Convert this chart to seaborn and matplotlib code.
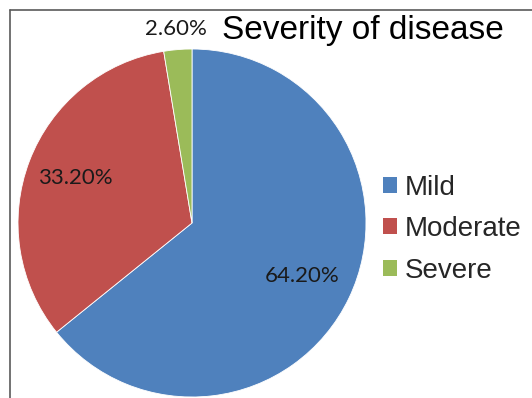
import numpy as np
import matplotlib
matplotlib.use("Agg")
import matplotlib.pyplot as plt
from matplotlib.lines import Line2D
from matplotlib.patches import Patch
import seaborn as sns

categories = ["Mild", "Moderate", "Severe"]
values = [64.2, 33.2, 2.6]
colors = ["#4F81BD", "#C0504D", "#9BBB59"]
title = "Severity of disease"

sns.set_theme(style="white")
plt.rcParams['font.family'] = ['Liberation Sans', 'DejaVu Sans']

W, H = 532, 398
fig = plt.figure(figsize=(W / 100, H / 100), dpi=100)
fig.patch.set_facecolor("white")

# border lines (left and top)
bc = "#5a5a5a"
fig.add_artist(Line2D([10 / W, 10 / W], [0, 1 - 10 / H], color=bc, lw=1.2, transform=fig.transFigure))
fig.add_artist(Line2D([10 / W, 1], [1 - 10 / H, 1 - 10 / H], color=bc, lw=1.2, transform=fig.transFigure))

cx, cy, R = 192, 223, 174
ax = fig.add_axes([(cx - R) / W, (H - cy - R) / H, 2 * R / W, 2 * R / H])
wedges, _ = ax.pie(values, colors=colors, startangle=90, counterclock=False,
                   radius=1, wedgeprops=dict(linewidth=0.6, edgecolor="white"))
ax.set_xlim(-1, 1)
ax.set_ylim(-1, 1)
ax.set_aspect("equal")
ax.axis("off")
for w in wedges:
    w.set_clip_on(False)

dists = [0.70, 0.72, 1.12]
for w, v, d in zip(wedges, values, dists):
    ang = np.deg2rad((w.theta1 + w.theta2) / 2)
    ax.text(d * np.cos(ang), d * np.sin(ang), f"{v:.2f}%", ha="center", va="center",
            fontsize=16, family=["Lato", "DejaVu Sans"], color="#1a1a1a", clip_on=False)

fig.text(222 / W, 1 - 39 / H, title, fontsize=24, ha="left", va="baseline", color="black")

handles = [Patch(facecolor=c, edgecolor="none") for c in colors]
leg = fig.legend(handles, categories, loc="upper left", bbox_to_anchor=(383 / W, 1 - 175 / H),
                 frameon=False, fontsize=20, handlelength=0.5, handleheight=0.5,
                 handletextpad=0.3, labelspacing=0.55, borderaxespad=0, borderpad=0)

fig.savefig("out.png", dpi=100, facecolor="white")
